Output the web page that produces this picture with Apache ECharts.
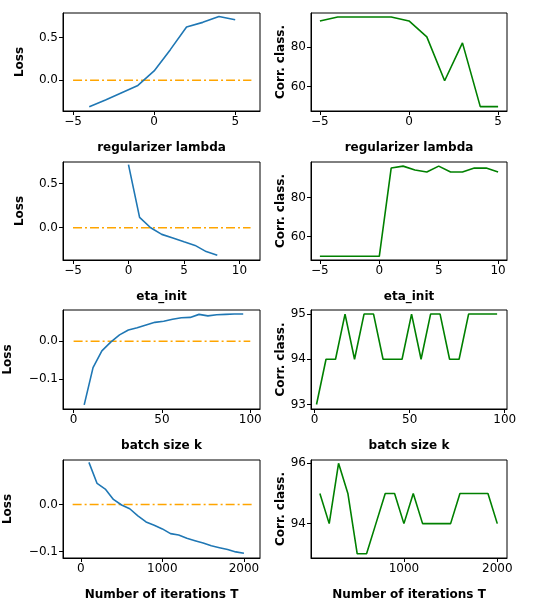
<!DOCTYPE html>
<html>
<head>
<meta charset="utf-8">
<script src="https://cdn.jsdelivr.net/npm/echarts@6/dist/echarts.min.js"></script>
<style>html,body{margin:0;padding:0;background:#fff}#c{width:544px;height:615px}</style>
</head>
<body>
<div id="c"></div>
<script>
// data
const lambdaLossX = [-4, -3, -2, -1, 0, 1, 2, 3, 4, 5]
const lambdaLoss = [-0.31, -0.23, -0.145, -0.06, 0.11, 0.36, 0.625, 0.68, 0.75, 0.71]
const lambdaAccX = [-5, -4, -3, -2, -1, 0, 1, 2, 3, 4, 5]
const lambdaAcc = [93, 95, 95, 95, 95, 93, 85, 63, 82, 50, 50]

const etaLossX = [0, 1, 2, 3, 4, 5, 6, 7, 8]
const etaLoss = [0.714, 0.117, 0.0, -0.075, -0.115, -0.158, -0.2, -0.27, -0.31]
const etaAccX = [-5, -4, -3, -2, -1, 0, 1, 2, 3, 4, 5, 6, 7, 8, 9, 10]
const etaAcc = [50, 50, 50, 50, 50, 50, 95, 96, 94, 93, 96, 93, 93, 95, 95, 93]

const batchLossX = [6, 11, 16, 21, 26, 31, 36, 41, 46, 51, 56, 61, 66, 71, 76, 81, 86, 91, 96]
const batchLoss = [-0.167, -0.069, -0.025, -0.002, 0.017, 0.030, 0.036, 0.043, 0.050, 0.053,
  0.058, 0.062, 0.063, 0.071, 0.067, 0.070, 0.071, 0.072, 0.072]
const batchAccX = [1, 6, 11, 16, 21, 26, 31, 36, 41, 46, 51, 56, 61, 66, 71, 76, 81, 86, 91, 96]
const batchAcc = [93, 94, 94, 95, 94, 95, 95, 94, 94, 94, 95, 94, 95, 95, 94, 94, 95, 95, 95, 95]

const iterX = [100, 200, 300, 400, 500, 600, 700, 800, 900, 1000,
  1100, 1200, 1300, 1400, 1500, 1600, 1700, 1800, 1900, 2000]
const iterLoss = [0.09, 0.045, 0.033, 0.011, -0.001, -0.009, -0.024, -0.037, -0.044, -0.052,
  -0.062, -0.065, -0.072, -0.077, -0.082, -0.088, -0.092, -0.096, -0.101, -0.104]
const iterAcc = [95, 94, 96, 95, 93, 93, 94, 95, 95, 94, 95, 94, 94, 94, 94, 95, 95, 95, 95, 94]

const zip = (xs, ys) => xs.map((x, i) => [x, ys[i]])
const minus = v => String(v).replace('-', '\u2212')

const panels = [
  { g: [63, 13, 197, 98], xn: 'regularizer lambda', xr: [-5.62, 6.53], xt: [-5, 0, 5], yr: [-0.36, 0.79], yt: [0, 0.5], d: 1, gap: 37, data: zip(lambdaLossX, lambdaLoss), c: '#1f77b4', zero: [-5, 6] },
  { g: [311, 13, 196, 98], xn: 'regularizer lambda', xr: [-5.5, 5.5], xt: [-5, 0, 5], yr: [47.8, 97], yt: [60, 80], d: 0, gap: 21, data: zip(lambdaAccX, lambdaAcc), c: 'green' },
  { g: [63, 162, 197, 98], xn: 'eta_init', xr: [-5.9, 11.85], xt: [-5, 0, 5, 10], yr: [-0.365, 0.744], yt: [0, 0.5], d: 1, gap: 37, data: zip(etaLossX, etaLoss), c: '#1f77b4', zero: [-5, 11] },
  { g: [311, 162, 196, 98], xn: 'eta_init', xr: [-5.75, 10.75], xt: [-5, 0, 5, 10], yr: [48.1, 98.1], yt: [60, 80], d: 0, gap: 21, data: zip(etaAccX, etaAcc), c: 'green' },
  { g: [63, 310, 197, 99], xn: 'batch size k', xr: [-6, 105.5], xt: [0, 50, 100], yr: [-0.178, 0.0825], yt: [-0.1, 0], d: 1, gap: 49, data: zip(batchLossX, batchLoss), c: '#1f77b4', zero: [0, 100] },
  { g: [311, 310, 196, 99], xn: 'batch size k', xr: [-1.9, 101.2], xt: [0, 50, 100], yr: [92.9, 95.09], yt: [93, 94, 95], d: 0, gap: 21, data: zip(batchAccX, batchAcc), c: 'green' },
  { g: [63, 460, 197, 98], xn: 'Number of iterations T', xr: [-218, 2197], xt: [0, 1000, 2000], yr: [-0.114, 0.095], yt: [-0.1, 0], d: 1, gap: 49, data: zip(iterX, iterLoss), c: '#1f77b4', zero: [-100, 2100] },
  { g: [311, 460, 196, 98], xn: 'Number of iterations T', xr: [5, 2104], xt: [1000, 2000], yr: [92.86, 96.11], yt: [94, 96], d: 0, gap: 21, data: zip(iterX, iterAcc), c: 'green' }
]

const font = 'DejaVu Sans'
const grid = [], xAxis = [], yAxis = [], series = []
panels.forEach((p, i) => {
  grid.push({ left: p.g[0], top: p.g[1], width: p.g[2], height: p.g[3], show: true, borderColor: '#000', borderWidth: 1 })
  xAxis.push({
    type: 'value', gridIndex: i, min: p.xr[0], max: p.xr[1],
    name: p.xn, nameLocation: 'middle', nameGap: 31,
    nameTextStyle: { fontFamily: font, fontWeight: 'bold', fontSize: 12, color: '#000' },
    axisLine: { show: true, onZero: false, lineStyle: { color: '#000' } },
    axisTick: { show: true, length: 4, customValues: p.xt, lineStyle: { color: '#000' } },
    axisLabel: { customValues: p.xt, fontFamily: font, fontSize: 12, color: '#000', margin: 5, formatter: v => minus(v) },
    splitLine: { show: false }
  })
  yAxis.push({
    type: 'value', gridIndex: i, min: p.yr[0], max: p.yr[1],
    name: i % 2 ? 'Corr. class.' : 'Loss', nameLocation: 'middle', nameGap: p.gap,
    nameTextStyle: { fontFamily: font, fontWeight: 'bold', fontSize: 12, color: '#000' },
    axisLine: { show: true, onZero: false, lineStyle: { color: '#000' } },
    axisTick: { show: true, length: 4, customValues: p.yt, lineStyle: { color: '#000' } },
    axisLabel: { customValues: p.yt, fontFamily: font, fontSize: 12, color: '#000', margin: 5, formatter: v => minus(v.toFixed(p.d)) },
    splitLine: { show: false }
  })
  series.push({
    type: 'line', xAxisIndex: i, yAxisIndex: i, data: p.data, showSymbol: false,
    lineStyle: { color: p.c, width: 1.6 }, animation: false
  })
  if (p.zero) {
    series.push({
      type: 'line', xAxisIndex: i, yAxisIndex: i, data: [[p.zero[0], 0], [p.zero[1], 0]], showSymbol: false,
      lineStyle: { color: '#ffa500', width: 1.5, type: [9, 3, 2, 3] }, animation: false, z: 1
    })
  }
})

const myChart = echarts.init(document.getElementById('c'))
myChart.setOption({ animation: false, grid, xAxis, yAxis, series })
</script>
</body>
</html>
